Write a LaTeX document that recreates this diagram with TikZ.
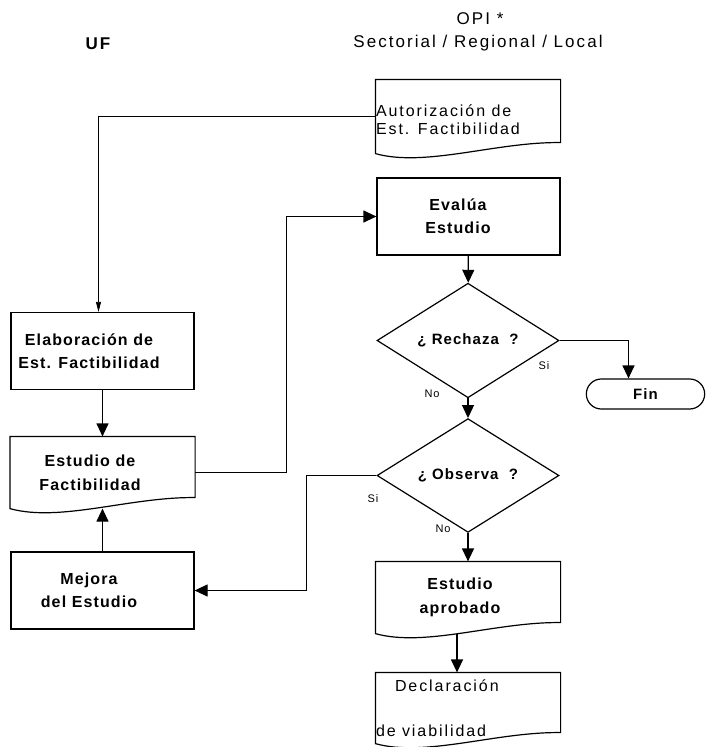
\documentclass[tikz,border=0pt]{standalone}
\usepackage{fontspec}
\setmainfont{Liberation Sans}
\newfontfamily\boxfont[LetterSpace=7]{Liberation Sans}
\newfontfamily\docfont[LetterSpace=12]{Liberation Sans}
\newfontfamily\headfont[LetterSpace=12]{Liberation Sans}
\usetikzlibrary{shapes.geometric, shapes.misc, calc, arrows.meta, positioning}

\tikzset{
    box/.style={draw, minimum width=183pt, minimum height=77pt, text width=183pt, inner xsep=0pt,
        align=flush center, font=\boxfont\fontsize{16}{23}\selectfont\bfseries},
    doc/.style={minimum width=184pt, minimum height=71pt, text width=184pt, inner xsep=0pt,
        align=flush center, font=\boxfont\fontsize{16}{24}\selectfont\bfseries},
    docplain/.style={align=flush left, font=\docfont\fontsize{16}{#1}\selectfont},
    offleft/.style={execute at begin node={\rightskip=#1 plus 1fil\relax}},
    choice/.style={diamond, draw, minimum width=182pt, minimum height=95pt, inner sep=0pt,
        font=\boxfont\fontsize{15}{18}\selectfont\bfseries},
    stop/.style={rounded rectangle, draw, minimum width=125pt, minimum height=30pt,
        font=\boxfont\fontsize{15}{18}\selectfont\bfseries},
    head/.style={font=\headfont\fontsize{17}{20}\selectfont},
    lbl/.style={inner sep=0pt, font=\boxfont\fontsize{11}{13}\selectfont},
}

\begin{document}
\begin{tikzpicture}[x=1pt, y=-1pt, >={Triangle[length=13pt, width=12pt]}, line width=1.2pt]

\useasboundingbox (0,0) rectangle (710,747);

% column headers
\node[head, font=\headfont\fontsize{17}{20}\selectfont\bfseries] (uf) at (98,44) {UF};
\node[head] (opi) at (480,19) {OPI *};
\node[head] (ambito) at (478,43) {Sectorial / Regional / Local};

% UF column
\node[box, offleft=27pt] (elab) at (102.5,351) {Elaboración de\\Est. Factibilidad};
\node[doc, offleft=25pt] (estfact) at (102.5,472.5) {Estudio de\\Factibilidad};
\node[box, offleft=27pt] (mejora) at (102.5,590.5) {Mejora\\del Estudio};

% OPI column
\node[doc, docplain=18pt, minimum height=73pt, text height=19pt] (autoriz) at (468,116.5) {Autorización de\\Est. Factibilidad};
\node[box, offleft=21pt] (evalua) at (468.5,216.5) {Evalúa\\Estudio};
\node[choice] (rechaza) at (468,340.5) {¿ Rechaza~~?};
\node[stop] (fin) at (645.5,394) {Fin};
\node[choice] (observa) at (468,475.5) {¿ Observa~~?};
\node[doc, offleft=16pt] (aprob) at (468,597.5) {Estudio\\aprobado};
\node[doc, docplain=24pt, minimum height=70pt] (declar) at (468,708) {\hspace*{19pt}Declaración\\[21pt]de viabilidad};

\node[lbl] (si1) at (544,366) {Si};
\node[lbl] (no1) at (432,394) {No};
\node[lbl] (si2) at (373,499) {Si};
\node[lbl] (no2) at (443,529) {No};

% document outlines with wavy bottom
\foreach \n in {autoriz, estfact, aprob, declar}
    \draw (\n.south west) -- (\n.north west) -- (\n.north east) -- ($(\n.south east)+(0,-11)$)
        .. controls +(-64,-1) and +(50,14) .. (\n.south west) -- cycle;

\draw[-{Triangle[length=10pt, width=5pt]}, line width=0.8pt] (autoriz.west) -| ([xshift=-4pt]elab.north);
\draw[->] (elab) -- (estfact);
\draw[->] (estfact.east) -- ++(91,0) |- (evalua.west);
\draw[->] (evalua) -- (rechaza);
\draw[->] (rechaza.east) -| ([xshift=-17pt]fin.north);
\draw[->] (rechaza) -- (observa);
\draw[->] (observa.west) -- ++(-70,0) |- (mejora.east);
\draw[->] (observa) -- (aprob);
\draw[->] ([xshift=-11pt]aprob.south) -- ([xshift=-11pt]declar.north);
\draw[->] (mejora) -- (estfact.south);

\end{tikzpicture}
\end{document}
